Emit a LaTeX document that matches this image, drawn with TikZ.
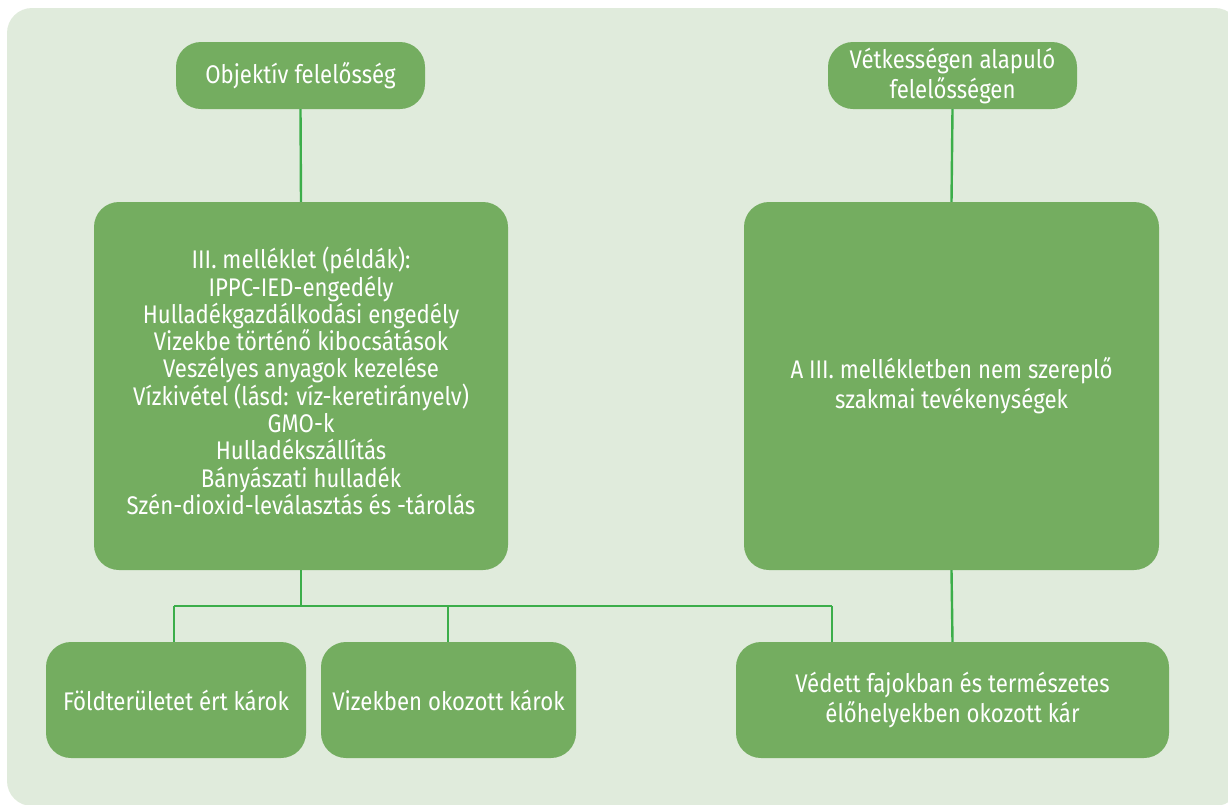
\documentclass[tikz,border=0pt]{standalone}
\usepackage{fontspec}
\setmainfont{Fira Sans}[FakeStretch=0.87]
\definecolor{bgc}{HTML}{E0EBDC}
\definecolor{boxc}{HTML}{74AD60}
\definecolor{linec}{HTML}{3CAE4A}
\tikzset{
  gbox/.style={rectangle, rounded corners=25pt, fill=boxc, draw=none, inner sep=0pt,
    text=white, align=center, font=\fontsize{25.5}{27.3}\selectfont},
  twoline/.style={font=\fontsize{25.5}{30}\selectfont},
  conn/.style={draw=linec, line width=2.4pt}
}
\begin{document}
\begin{tikzpicture}[x=1pt,y=-1pt]
\useasboundingbox (0,0) rectangle (1228,804);
\begin{scope}
\clip (0,0) rectangle (1228,804);
\fill[bgc, rounded corners=25pt] (7,8) rectangle (1240,806);
\end{scope}
\node[gbox, minimum width=249pt, minimum height=67pt] (obj) at (300.5,75.5) {Objektív felelősség};
\node[gbox, twoline, minimum width=249pt, minimum height=67pt] (vet) at (952.5,75.5) {Vétkességen alapuló\\felelősségen};
\node[gbox, minimum width=414pt, minimum height=368pt] (ann) at (301,386) {};
\node[text=white, align=center, font=\fontsize{25.5}{27.3}\selectfont, inner sep=0pt] (anntext) at (301,381) {III. melléklet (példák):\\IPPC-IED-engedély\\Hulladékgazdálkodási engedély\\Vizekbe történő kibocsátások\\Veszélyes anyagok kezelése\\Vízkivétel (lásd: víz-keretirányelv)\\GMO-k\\Hulladékszállítás\\Bányászati hulladék\\Szén-dioxid-leválasztás és -tárolás};
\node[gbox, twoline, minimum width=415pt, minimum height=368pt] (non) at (951.5,386) {A III. mellékletben nem szereplő\\szakmai tevékenységek};
\node[gbox, minimum width=260pt, minimum height=116pt] (fold) at (176,700) {Földterületet ért károk};
\node[gbox, minimum width=255pt, minimum height=116pt] (viz) at (448.5,700) {Vizekben okozott károk};
\node[gbox, twoline, minimum width=433pt, minimum height=116pt] (ved) at (952.5,700) {Védett fajokban és természetes\\élőhelyekben okozott kár};
\coordinate (hb) at (301,606);
\coordinate (hl) at (174,606);
\coordinate (hm) at (448,606);
\coordinate (hr) at (832,606);
\draw[conn] (obj.south) -- (ann.north);
\draw[conn] (vet.south) -- (non.north);
\draw[conn] (non.south) -- (ved.north);
\draw[conn] (ann.south) -- (hb);
\draw[conn] (hl) -- (hr);
\draw[conn] (hl) -- (hl |- fold.north);
\draw[conn] (hm) -- (hm |- viz.north);
\draw[conn] (hr) -- (hr |- ved.north);
\end{tikzpicture}
\end{document}
